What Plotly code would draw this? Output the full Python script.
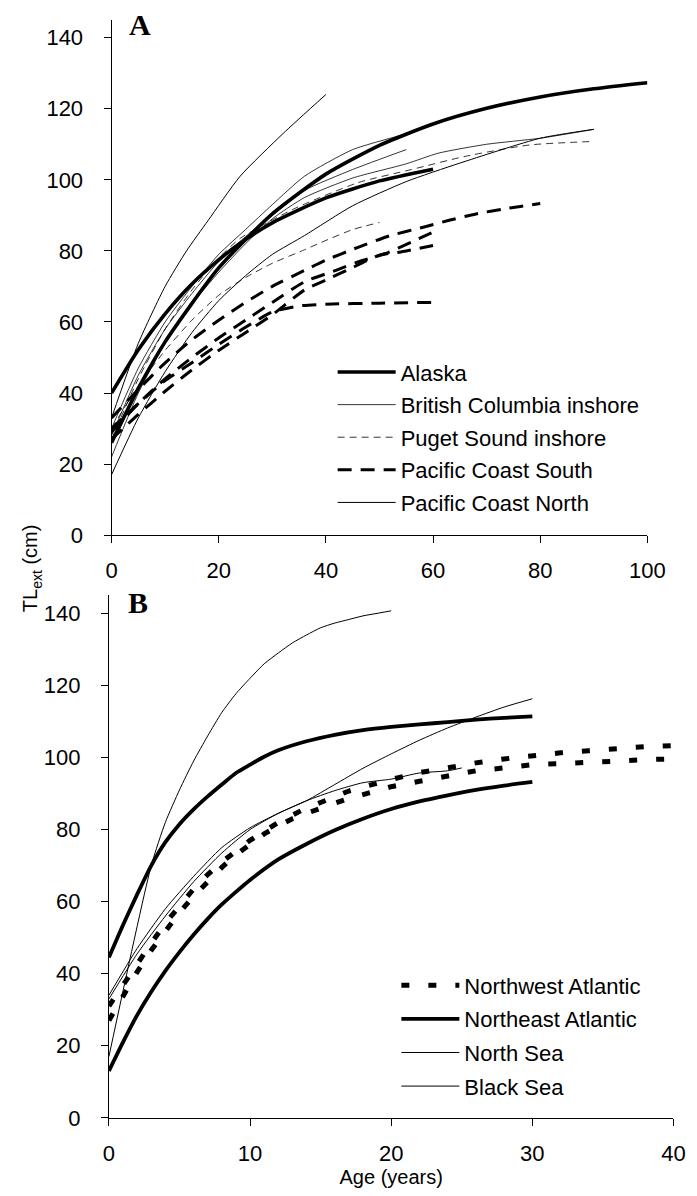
import plotly.graph_objects as go

# ---------------- Panel A data (age in years, TL_ext in cm) ----------------
ak1_age = [0, 5, 10, 20, 30, 40, 50, 60, 70, 80, 90, 100]
ak1_tl = [26, 41.3, 54.4, 75.2, 90.4, 101.6, 109.7, 115.7, 120.1, 123.3, 125.6, 127.3]
ak2_age = [0, 5, 10, 15, 20, 25, 30, 40, 50, 60]
ak2_tl = [40, 52.2, 62.3, 70.7, 77.5, 83.2, 87.9, 94.9, 99.7, 103]

bc1_age = [0, 5, 10, 15, 20, 25, 30, 36, 45, 55, 61, 70, 80, 90]
bc1_tl = [22, 40, 54, 65, 74, 82, 89, 95, 100.5, 104.5, 107.5, 110, 111.7, 114.2]
bc2_age = [0, 5, 10, 15, 20, 25, 30, 36, 45, 55]
bc2_tl = [28, 45, 58, 68, 77, 84, 90, 97, 102.9, 108.5]
bc3_age = [0, 5, 10, 15, 20, 25, 30, 36, 45, 55, 60]
bc3_tl = [30, 47, 60, 70, 79, 86, 93, 101, 108.5, 113, 115.7]

ps1_age = [0, 5, 10, 15, 20, 24, 34, 46, 56, 66, 78, 90]
ps1_tl = [27, 44, 58, 69, 78, 83.5, 91.8, 99.2, 102.9, 106.6, 109.8, 110.8]
ps2_age = [0, 5, 10, 15, 20, 25, 30, 36, 39, 45, 50]
ps2_tl = [30, 42, 52, 60.5, 67.5, 72.5, 76.5, 80.3, 82.3, 86, 88]

pcs1_age = [0, 5, 10, 15, 20, 25, 30, 35, 40, 50, 60]
pcs1_tl = [30, 37, 43.5, 48.5, 53.7, 58.5, 62.8, 64.5, 65, 65.3, 65.5]
pcs2_age = [0, 5, 10, 15, 20, 25, 30, 36, 40, 46, 52, 58, 63, 68, 74, 80]
pcs2_tl = [33, 41, 48.5, 55, 60.5, 65.5, 70, 74.5, 77.4, 81, 84.3, 86.6, 88.6, 90.4, 92, 93.3]
pcs3_age = [0, 5, 10, 15, 20, 25, 30, 36, 42, 46, 51, 56, 60]
pcs3_tl = [29, 37, 44, 50, 55.5, 60.5, 65.5, 71.3, 74.6, 76.9, 79.2, 82.5, 85.3]
pcs4_age = [0, 5, 10, 15, 20, 25, 30, 36, 40, 44, 50, 54, 60]
pcs4_tl = [27, 34, 40.5, 46.5, 52, 57, 62, 69, 71.8, 74.6, 78.8, 79.7, 81.5]

pcn1_age = [0, 5, 10, 14, 18, 24, 32, 40]
pcn1_tl = [33, 54, 70, 80, 88.5, 101, 113, 124]
pcn2_age = [0, 5, 10, 15, 20, 25, 30, 36, 45, 55, 65, 80, 90]
pcn2_tl = [17, 33, 46, 57, 66, 73, 79, 84.3, 92.7, 99.5, 104.7, 111.7, 114.2]

# ---------------- Panel B data ----------------
nw1_age = [0, 1, 2, 3, 4, 5, 6, 7, 8, 9, 10, 11, 12, 13, 14, 15, 16, 17, 18, 19, 20,
           22, 24, 26, 28, 30, 32, 34, 36, 38, 40]
nw1_tl = [31, 37, 43, 48.5, 54, 59, 63.5, 67.5, 71, 74, 77, 79.5, 82, 84, 86, 87.5, 89.2,
          90.7, 91.8, 93, 93.9, 95.8, 97.3, 98.5, 99.6, 100.6, 101.3, 101.9, 102.5, 103, 103.3]
nw2_age = [0, 1, 2, 3, 4, 5, 6, 7, 8, 9, 10, 11, 12, 13, 14, 15, 16, 17, 18, 19, 20,
           22, 24, 26, 28, 30, 32, 34, 36, 38, 40]
nw2_tl = [27, 34, 40.5, 46.5, 52, 57, 61.5, 65.5, 69.5, 73, 76, 78.8, 81, 83, 84.5, 86, 87.3,
          88.6, 89.8, 91, 91.9, 93.4, 95, 96.3, 97.1, 98, 98.3, 98.8, 99, 99.4, 99.6]

ne1_age = [0, 1, 2, 3, 4, 5, 6, 7, 8, 9, 10, 11, 12, 14, 16, 18, 20, 22, 24, 26, 28, 30]
ne1_tl = [44.5, 53.5, 62, 70, 76.5, 81.5, 85.6, 89.2, 92.5, 95.7, 98, 100.2, 102, 104.5,
          106.3, 107.6, 108.5, 109.2, 109.8, 110.5, 111, 111.4]
ne2_age = [0, 1, 2, 3, 4, 5, 6, 7, 8, 9, 10, 12, 14, 16, 18, 20, 22, 24, 26, 28, 30]
ne2_tl = [13, 21, 28.5, 35, 40.8, 46, 50.8, 55.2, 59.2, 62.7, 66, 71.7, 76, 79.8, 83, 85.7,
          87.8, 89.5, 91, 92.2, 93.2]

ns1_age = [0, 2, 4, 6, 8, 10, 12, 14, 16, 18, 20, 22, 24, 26, 28, 30]
ns1_tl = [33, 45.5, 56, 65.5, 73.5, 80, 84.5, 88, 92.5, 97, 101, 104.8, 108.2, 111.2, 114, 116.3]
ns2_age = [0, 2, 4, 6, 8, 10, 12, 14, 16, 18, 20, 22, 24, 25]
ns2_tl = [34, 47, 58, 67, 75, 80.5, 84.5, 88, 90.8, 93, 94, 95.7, 96.3, 97.1]

bs1_age = [0, 3, 4, 5, 6, 7, 8, 9, 10, 11, 12, 13, 14, 15, 16, 17, 18, 19, 20]
bs1_tl = [17, 70, 82, 91, 99, 106, 112.5, 117.7, 122, 126, 129, 131.8, 134, 136, 137.3,
          138.3, 139.3, 140, 140.7]

y_ticks = [0, 20, 40, 60, 80, 100, 120, 140]
xa_ticks = [0, 20, 40, 60, 80, 100]
xb_ticks = [0, 10, 20, 30, 40]

FONT = "Liberation Sans, Arial, sans-serif"
SERIF = "Liberation Serif, Times New Roman, serif"
fig = go.Figure()


def add(age, tl, name, group, legend, panel, width, dash="solid", show=False,
        color="black", shape="spline"):
    fig.add_trace(go.Scatter(
        x=age, y=tl, mode="lines", name=name, legendgroup=group, legend=legend,
        showlegend=show, xaxis="x" if panel == "A" else "x2",
        yaxis="y" if panel == "A" else "y2",
        line=dict(color=color, width=width, dash=dash, shape=shape, smoothing=0.6),
        hoverinfo="skip"))


THICK_DASH = "14px,9px"
THIN_DASH = "7px,5px"
DOT = "8px,19px"

# Panel A (legend order)
add(ak1_age, ak1_tl, "Alaska", "ak", "legend", "A", 3.6, show=True)
add(ak2_age, ak2_tl, "Alaska", "ak", "legend", "A", 3.6)
add(bc1_age, bc1_tl, "British Columbia inshore", "bc", "legend", "A", 0.8, show=True)
add(bc2_age, bc2_tl, "British Columbia inshore", "bc", "legend", "A", 0.8)
add(bc3_age, bc3_tl, "British Columbia inshore", "bc", "legend", "A", 0.8)
add(ps1_age, ps1_tl, "Puget Sound inshore", "ps", "legend", "A", 0.8, THIN_DASH, show=True)
add(ps2_age, ps2_tl, "Puget Sound inshore", "ps", "legend", "A", 0.8, THIN_DASH)
add(pcs1_age, pcs1_tl, "Pacific Coast South", "pcs", "legend", "A", 3.0, THICK_DASH, show=True)
add(pcs2_age, pcs2_tl, "Pacific Coast South", "pcs", "legend", "A", 3.0, THICK_DASH)
add(pcs3_age, pcs3_tl, "Pacific Coast South", "pcs", "legend", "A", 3.0, THICK_DASH)
add(pcs4_age, pcs4_tl, "Pacific Coast South", "pcs", "legend", "A", 3.0, THICK_DASH)
add(pcn1_age, pcn1_tl, "Pacific Coast North", "pcn", "legend", "A", 1.0, show=True)
add(pcn2_age, pcn2_tl, "Pacific Coast North", "pcn", "legend", "A", 1.0)

# Panel B
add(nw1_age, nw1_tl, "Northwest Atlantic", "nw", "legend2", "B", 5, DOT, show=True, shape="linear")
add(nw2_age, nw2_tl, "Northwest Atlantic", "nw", "legend2", "B", 5, DOT, shape="linear")
add(ne1_age, ne1_tl, "Northeast Atlantic", "ne", "legend2", "B", 3.8, show=True)
add(ne2_age, ne2_tl, "Northeast Atlantic", "ne", "legend2", "B", 3.8)
add(ns1_age, ns1_tl, "North Sea", "ns", "legend2", "B", 1.0, show=True)
add(ns2_age, ns2_tl, "North Sea", "ns", "legend2", "B", 1.0)
add(bs1_age, bs1_tl, "Black Sea", "bs", "legend2", "B", 1.0, show=True)

W, H = 697, 1196
axis_common = dict(showgrid=False, zeroline=False, showline=True, linecolor="black",
                   linewidth=1, ticks="outside", ticklen=7, tickcolor="black",
                   tickwidth=1, tickfont=dict(family=FONT, size=22, color="black"))

fig.update_layout(
    width=W, height=H, margin=dict(l=0, r=0, t=0, b=0),
    paper_bgcolor="white", plot_bgcolor="white",
    font=dict(family=FONT, color="black"),
    xaxis=dict(domain=[101 / W, 656 / W], range=[0, 100], tickvals=xa_ticks,
               anchor="y", ticklabelstandoff=8, **axis_common),
    yaxis=dict(domain=[(H - 533) / H, (H - 12) / H], range=[0, 145], tickvals=y_ticks,
               anchor="x", ticklabelstandoff=16, **axis_common),
    xaxis2=dict(domain=[98.3 / W, 683 / W], range=[0, 40], tickvals=xb_ticks,
                anchor="y2", ticklabelstandoff=9,
                title=dict(text="Age (years)", font=dict(family=FONT, size=20), standoff=3),
                **axis_common),
    yaxis2=dict(domain=[(H - 1122) / H, (H - 593.8) / H], range=[0, 145], tickvals=y_ticks,
                anchor="x2", ticklabelstandoff=16, **axis_common),
    legend=dict(x=330 / W, y=(H - 347) / H, xanchor="left", yanchor="top",
                bgcolor="rgba(0,0,0,0)", itemwidth=58, tracegroupgap=1,
                traceorder="grouped", font=dict(family=FONT, size=22)),
    legend2=dict(x=396 / W, y=(H - 967) / H, xanchor="left", yanchor="top",
                 bgcolor="rgba(0,0,0,0)", itemwidth=58, tracegroupgap=2,
                 traceorder="grouped", font=dict(family=FONT, size=22)),
    annotations=[
        dict(text="<b>A</b>", x=131 / W, y=(H - 17) / H, xref="paper", yref="paper",
             xanchor="center", yanchor="middle", showarrow=False,
             font=dict(family=SERIF, size=30)),
        dict(text="<b>B</b>", x=128 / W, y=(H - 601) / H, xref="paper", yref="paper",
             xanchor="center", yanchor="middle", showarrow=False,
             font=dict(family=SERIF, size=30)),
        dict(text="TL<sub>ext</sub> (cm)", x=19 / W, y=(H - 566) / H, xref="paper",
             yref="paper", xanchor="center", yanchor="middle", showarrow=False,
             textangle=-90, font=dict(family=FONT, size=20)),
    ],
)

fig.write_html("out.html")
